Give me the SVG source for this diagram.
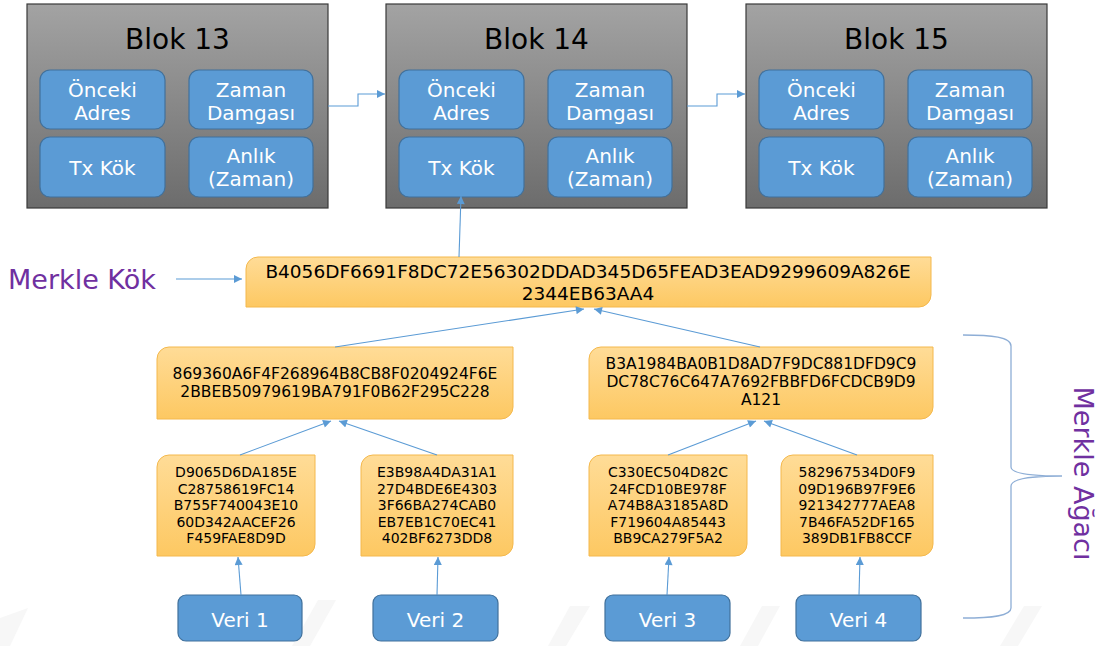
<svg xmlns="http://www.w3.org/2000/svg" width="1102" height="646" viewBox="0 0 1102 646">
<defs>
<linearGradient id="gray" x1="0" y1="0" x2="0" y2="1">
<stop offset="0" stop-color="#a3a3a3"/>
<stop offset="1" stop-color="#6c6c6c"/>
</linearGradient>
<linearGradient id="org" x1="0" y1="0" x2="0" y2="1">
<stop offset="0" stop-color="#ffdc97"/>
<stop offset="1" stop-color="#fdc862"/>
</linearGradient>
<marker id="arr" viewBox="0 0 10 10" refX="10" refY="5" markerWidth="9" markerHeight="8" orient="auto" markerUnits="userSpaceOnUse">
<path d="M0,0 L10,5 L0,10 Z" fill="#5b9bd5"/>
</marker>
<style>
.blk{fill:url(#gray);stroke:#3a3a3a;stroke-width:1.2}
.ttl{font-family:"DejaVu Sans",Verdana,sans-serif;font-size:28px;fill:#000;text-anchor:middle}
.bb{fill:#5b9bd5;stroke:#41719c;stroke-width:1.2}
.bt{font-family:"DejaVu Sans",Verdana,sans-serif;font-size:20px;fill:#fff;text-anchor:middle}
.hb{fill:url(#org);stroke:#f4b84c;stroke-width:1}
.ht{font-family:"DejaVu Sans",Verdana,sans-serif;fill:#000;text-anchor:middle}
.con{fill:none;stroke:#5b9bd5;stroke-width:1.1}
.pur{font-family:"DejaVu Sans",Verdana,sans-serif;font-size:27px;fill:#7030a0}
.wm{fill:#f7f7f7}
</style>
</defs>
<rect width="1102" height="646" fill="#fff"/>
<g id="watermark">
<path class="wm" d="M0,618 L28,608 L10,646 L0,646 Z"/>
<path class="wm" d="M292,646 L318,600 L336,600 L310,646 Z"/>
<path class="wm" d="M548,646 L570,606 L590,606 L566,646 Z"/>
<path class="wm" d="M740,646 L762,606 L780,606 L758,646 Z"/>
<path class="wm" d="M1000,646 L1024,606 L1042,606 L1018,646 Z"/>
</g>

<g id="blok13">
<rect class="blk" x="27" y="4" width="301" height="204"/>
<text class="ttl" x="177.5" y="49">Blok 13</text>
<rect class="bb" x="40" y="70" width="125" height="59" rx="10"/>
<text class="bt" x="102.5" y="97">Önceki</text><text class="bt" x="102.5" y="120">Adres</text>
<rect class="bb" x="189" y="70" width="124" height="59" rx="10"/>
<text class="bt" x="251" y="97">Zaman</text><text class="bt" x="251" y="120">Damgası</text>
<rect class="bb" x="40" y="137" width="125" height="60" rx="10"/>
<text class="bt" x="102.5" y="175">Tx Kök</text>
<rect class="bb" x="189" y="137" width="124" height="60" rx="10"/>
<text class="bt" x="251" y="163">Anlık</text><text class="bt" x="251" y="186">(Zaman)</text>
</g>

<g id="blok14" transform="translate(359,0)">
<rect class="blk" x="27" y="4" width="301" height="204"/>
<text class="ttl" x="177.5" y="49">Blok 14</text>
<rect class="bb" x="40" y="70" width="125" height="59" rx="10"/>
<text class="bt" x="102.5" y="97">Önceki</text><text class="bt" x="102.5" y="120">Adres</text>
<rect class="bb" x="189" y="70" width="124" height="59" rx="10"/>
<text class="bt" x="251" y="97">Zaman</text><text class="bt" x="251" y="120">Damgası</text>
<rect class="bb" x="40" y="137" width="125" height="60" rx="10"/>
<text class="bt" x="102.5" y="175">Tx Kök</text>
<rect class="bb" x="189" y="137" width="124" height="60" rx="10"/>
<text class="bt" x="251" y="163">Anlık</text><text class="bt" x="251" y="186">(Zaman)</text>
</g>

<g id="blok15" transform="translate(719,0)">
<rect class="blk" x="27" y="4" width="301" height="204"/>
<text class="ttl" x="177.5" y="49">Blok 15</text>
<rect class="bb" x="40" y="70" width="125" height="59" rx="10"/>
<text class="bt" x="102.5" y="97">Önceki</text><text class="bt" x="102.5" y="120">Adres</text>
<rect class="bb" x="189" y="70" width="124" height="59" rx="10"/>
<text class="bt" x="251" y="97">Zaman</text><text class="bt" x="251" y="120">Damgası</text>
<rect class="bb" x="40" y="137" width="125" height="60" rx="10"/>
<text class="bt" x="102.5" y="175">Tx Kök</text>
<rect class="bb" x="189" y="137" width="124" height="60" rx="10"/>
<text class="bt" x="251" y="163">Anlık</text><text class="bt" x="251" y="186">(Zaman)</text>
</g>

<g id="merkle-kok-label">
<text class="pur" x="8" y="289">Merkle Kök</text>
</g>

<g id="root">
<path class="hb" d="M258,257 H931 V295 A12,12 0 0 1 919,307 H246 V269 A12,12 0 0 1 258,257 Z"/>
<text class="ht" font-size="18.5" x="588" y="278">B4056DF6691F8DC72E56302DDAD345D65FEAD3EAD9299609A826E</text>
<text class="ht" font-size="18.5" x="588" y="300">2344EB63AA4</text>
</g>

<g id="h12">
<path class="hb" d="M169,347 H513 V407 A12,12 0 0 1 501,419 H157 V359 A12,12 0 0 1 169,347 Z"/>
<text class="ht" font-size="15.5" x="335" y="379">869360A6F4F268964B8CB8F0204924F6E</text>
<text class="ht" font-size="15.5" x="335" y="397">2BBEB50979619BA791F0B62F295C228</text>
</g>

<g id="h34">
<path class="hb" d="M601,347 H933 V407 A12,12 0 0 1 921,419 H589 V359 A12,12 0 0 1 601,347 Z"/>
<text class="ht" font-size="15.5" x="761" y="369">B3A1984BA0B1D8AD7F9DC881DFD9C9</text>
<text class="ht" font-size="15.5" x="761" y="387">DC78C76C647A7692FBBFD6FCDCB9D9</text>
<text class="ht" font-size="15.5" x="761" y="405">A121</text>
</g>

<g id="h1">
<path class="hb" d="M169,455 H315 V544 A12,12 0 0 1 303,556 H157 V467 A12,12 0 0 1 169,455 Z"/>
<text class="ht" font-size="14" x="236" y="477">D9065D6DA185E</text>
<text class="ht" font-size="14" x="236" y="493.5">C28758619FC14</text>
<text class="ht" font-size="14" x="236" y="510">B755F740043E10</text>
<text class="ht" font-size="14" x="236" y="526.5">60D342AACEF26</text>
<text class="ht" font-size="14" x="236" y="543">F459FAE8D9D</text>
</g>

<g id="h2">
<path class="hb" d="M373,455 H513 V544 A12,12 0 0 1 501,556 H361 V467 A12,12 0 0 1 373,455 Z"/>
<text class="ht" font-size="14" x="437" y="477">E3B98A4DA31A1</text>
<text class="ht" font-size="14" x="437" y="493.5">27D4BDE6E4303</text>
<text class="ht" font-size="14" x="437" y="510">3F66BA274CAB0</text>
<text class="ht" font-size="14" x="437" y="526.5">EB7EB1C70EC41</text>
<text class="ht" font-size="14" x="437" y="543">402BF6273DD8</text>
</g>

<g id="h3">
<path class="hb" d="M601,455 H747 V544 A12,12 0 0 1 735,556 H589 V467 A12,12 0 0 1 601,455 Z"/>
<text class="ht" font-size="14" x="668" y="477">C330EC504D82C</text>
<text class="ht" font-size="14" x="668" y="493.5">24FCD10BE978F</text>
<text class="ht" font-size="14" x="668" y="510">A74B8A3185A8D</text>
<text class="ht" font-size="14" x="668" y="526.5">F719604A85443</text>
<text class="ht" font-size="14" x="668" y="543">BB9CA279F5A2</text>
</g>

<g id="h4">
<path class="hb" d="M793,455 H933 V544 A12,12 0 0 1 921,556 H781 V467 A12,12 0 0 1 793,455 Z"/>
<text class="ht" font-size="14" x="857" y="477">582967534D0F9</text>
<text class="ht" font-size="14" x="857" y="493.5">09D196B97F9E6</text>
<text class="ht" font-size="14" x="857" y="510">921342777AEA8</text>
<text class="ht" font-size="14" x="857" y="526.5">7B46FA52DF165</text>
<text class="ht" font-size="14" x="857" y="543">389DB1FB8CCF</text>
</g>

<g id="veri1"><rect class="bb" x="178" y="595" width="124" height="46" rx="8"/><text class="bt" x="240" y="627">Veri 1</text></g>
<g id="veri2"><rect class="bb" x="373" y="595" width="125" height="46" rx="8"/><text class="bt" x="435.5" y="627">Veri 2</text></g>
<g id="veri3"><rect class="bb" x="605" y="595" width="125" height="46" rx="8"/><text class="bt" x="667.5" y="627">Veri 3</text></g>
<g id="veri4"><rect class="bb" x="796" y="595" width="125" height="46" rx="8"/><text class="bt" x="858.5" y="627">Veri 4</text></g>

<g id="merkle-agaci">
<path d="M963,335 C992,335 1011,337 1011,346 V467 C1011,474 1032,476 1062,476 C1032,476 1011,479 1011,486 V608 C1011,616 992,618 963,618" fill="none" stroke="#8eaed6" stroke-width="1.3"/>
<text class="pur" transform="translate(1074,473.5) rotate(90)" text-anchor="middle">Merkle Ağacı</text>
</g>

<g id="connectors">
<path class="con" d="M328,106 H358 V94 H385" marker-end="url(#arr)"/>
<path class="con" d="M687,106 H717 V94 H745" marker-end="url(#arr)"/>
<path class="con" d="M459,257 L461,196" marker-end="url(#arr)"/>
<path class="con" d="M176,279 L242,279" marker-end="url(#arr)"/>
<path class="con" d="M335,347 L584,309" marker-end="url(#arr)"/>
<path class="con" d="M760,347 L594,309" marker-end="url(#arr)"/>
<path class="con" d="M240,455 L331,421" marker-end="url(#arr)"/>
<path class="con" d="M437,455 L339,421" marker-end="url(#arr)"/>
<path class="con" d="M668,455 L756,421" marker-end="url(#arr)"/>
<path class="con" d="M857,455 L764,421" marker-end="url(#arr)"/>
<path class="con" d="M241,595 L238,557" marker-end="url(#arr)"/>
<path class="con" d="M437,595 L438,557" marker-end="url(#arr)"/>
<path class="con" d="M667,595 L669,557" marker-end="url(#arr)"/>
<path class="con" d="M859,595 L860,557" marker-end="url(#arr)"/>
</g>
</svg>
